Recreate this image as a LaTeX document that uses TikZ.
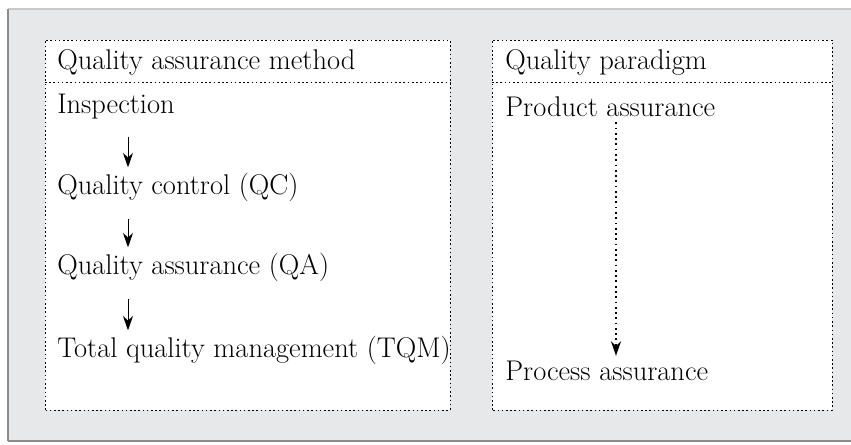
\documentclass[tikz,border=0pt]{standalone}
\usepackage{fontspec}
\usepackage{tikz}
\usetikzlibrary{arrows.meta,positioning,calc}
\definecolor{Panel}{HTML}{E7E8EA}
\definecolor{Edge}{HTML}{8C8C8C}
\definecolor{Rim}{HTML}{C9C9C9}

\begin{document}
\begin{tikzpicture}[
    label/.style={anchor=west,inner sep=0pt,font=\fontsize{16.2}{19}\selectfont},
    fine/.style={dash pattern=on 0.9pt off 1.5pt,line width=0.55pt},
    frame/.style={draw,fine,fill=white},
    flow/.style={-{Stealth[length=2.9mm,width=2mm]},line width=0.55pt},
    flowdot/.style={flow,dash pattern=on 1pt off 2pt,line width=0.7pt}
  ]
    \useasboundingbox (0,0) rectangle (17.02,8.9);
    % grey panel
    \fill[Panel] (0.16,0.08) rectangle (17.02,8.72);
    \draw[Rim,line width=0.6pt] (0.16,8.72) -- (17.02,8.72);
    \draw[Edge,line width=0.8pt] (0.16,0.08) -- (17.02,0.08);
    \draw[Edge,line width=1.6pt] (0.16,0.08) -- (0.16,8.72);
    % boxes
    \draw[frame] (0.9,0.7) rectangle (9.0,8.1);
    \draw[fine] (0.9,7.26) -- (9.0,7.26);
    \draw[frame] (9.84,0.7) rectangle (16.64,8.1);
    \draw[fine] (9.84,7.26) -- (16.64,7.26);
    % left column
    \node[label] (mhead) at (1.14,7.66) {Quality assurance method};
    \node[label] (insp) at (1.14,6.76) {Inspection};
    \node[label] (qc) at (1.14,5.16) {Quality control (QC)};
    \node[label] (qa) at (1.14,3.56) {Quality assurance (QA)};
    \node[label] (tqm) at (1.14,1.90) {Total quality management (TQM)};
    \coordinate (ax) at (2.56,0);
    \draw[flow,shorten <=0.35cm,shorten >=0.1cm] (insp.south -| ax) -- (qc.north -| ax);
    \draw[flow,shorten <=0.35cm,shorten >=0.1cm] (qc.south -| ax) -- (qa.north -| ax);
    \draw[flow,shorten <=0.35cm,shorten >=0.1cm] (qa.south -| ax) -- (tqm.north -| ax);
    % right column
    \node[label] (phead) at (10.1,7.66) {Quality paradigm};
    \node[label] (prod) at (10.1,6.76) {Product assurance};
    \node[label] (proc) at (10.1,1.48) {Process assurance};
    \coordinate (bx) at (12.32,0);
    \draw[flowdot,shorten <=0.1cm,shorten >=0.1cm] (prod.south -| bx) -- (proc.north -| bx);
  \end{tikzpicture}
\end{document}
